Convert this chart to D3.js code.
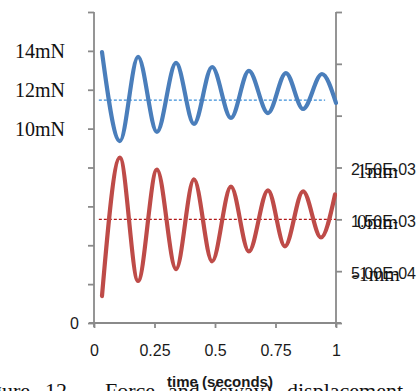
<!DOCTYPE html>
<html>
<head>
<meta charset="utf-8">
<script src="https://cdn.jsdelivr.net/npm/d3@7"></script>
<style>
    body { margin: 0; background: #fff; }
    svg { display: block; }
    .sans { font-family: "Liberation Sans", Arial, sans-serif; fill: #1a1a1a; }
    .serif { font-family: "Liberation Serif", "Times New Roman", serif; fill: #111; }
</style>
</head>
<body>
<svg id="chart" width="420" height="391"></svg>
<script>
// force (mN), read at peaks and troughs
var forceTime = [0.033, 0.107, 0.182, 0.260, 0.339, 0.413, 0.488, 0.566, 0.640, 0.719, 0.793, 0.864, 0.942, 1.0];
var forceValue = [13.94, 9.36, 13.69, 9.83, 13.38, 10.24, 13.17, 10.55, 12.97, 10.80, 12.86, 11.01, 12.81, 11.32];
var forceMean = 11.47;

// displacement (m), read at troughs and peaks
var dispTime = [0.033, 0.107, 0.182, 0.260, 0.339, 0.413, 0.488, 0.566, 0.640, 0.719, 0.789, 0.864, 0.938, 0.996];
var dispValue = [0.00002, 0.00269, 0.00031, 0.00246, 0.00054, 0.00227, 0.00069, 0.00213, 0.00088, 0.00206, 0.00098, 0.00204, 0.00115, 0.00198];
var dispMean = 0.0015;

// tick values
var xTicks = [0, 0.25, 0.5, 0.75, 1];
var leftTicks = [0, 2, 4, 6, 8, 10, 12, 14, 16];
var rightTicks = [-0.0005, 0.0005, 0.0015, 0.0025, 0.0035, 0.0045, 0.0055];
var rightLabelled = [0.0005, 0.0015, 0.0025];
var mnLabels = [{v: 14, t: "14mN"}, {v: 12, t: "12mN"}, {v: 10, t: "10mN"}];
var mmLabels = [{v: 0.0025, t: "1mm"}, {v: 0.0015, t: "0mm"}, {v: 0.0005, t: "-1mm"}];

var AXIS = "#8a8a8a";

window.onload = function()
{
    var svg = d3.select("#chart");

    // scales
    var x = d3.scaleLinear().domain([0, 1]).range([94, 336]),
        yL = d3.scaleLinear().domain([0, 16]).range([323, 12]),
        yR = d3.scaleLinear().domain([-0.0005, 0.0055]).range([323, 12]);

    // excel style exponent label
    var expFormat = function(d) {
        var s = d.toExponential(2).toUpperCase().split("E");
        var e = +s[1];
        return s[0] + "E" + (e < 0 ? "-" : "+") + d3.format("02d")(Math.abs(e));
    };

    // left axis
    var gl = svg.append("g")
        .attr("transform", "translate(" + x(0) + ",0)")
        .call(d3.axisLeft(yL).tickValues(leftTicks).tickSize(6).tickSizeOuter(0)
            .tickFormat(d => d === 0 ? "0" : ""));
    gl.select(".domain").remove();
    gl.append("line").attr("y1", yL(16)).attr("y2", yL(0) + 4);

    // right axis
    var gr = svg.append("g")
        .attr("transform", "translate(" + x(1) + ",0)")
        .call(d3.axisRight(yR).tickValues(rightTicks).tickSize(6).tickSizeOuter(0)
            .tickFormat(d => rightLabelled.some(v => Math.abs(v - d) < 1e-9) ? expFormat(d) : ""));
    gr.select(".domain").remove();
    gr.append("line").attr("y1", yR(0.0055)).attr("y2", yR(-0.0005) + 4);

    // bottom axis
    var gx = svg.append("g")
        .attr("transform", "translate(0," + yL(0) + ")")
        .call(d3.axisBottom(x).tickValues(xTicks).tickSize(5).tickSizeOuter(0)
            .tickFormat(d3.format("")));
    gx.select(".domain").remove();
    gx.append("line").attr("x1", x(0) - 5).attr("x2", x(1) + 5);

    // axis styling
    svg.selectAll(".tick line").attr("stroke", AXIS).attr("stroke-width", 1.5);
    svg.selectAll("g > line").attr("stroke", AXIS).attr("stroke-width", 1.8);
    svg.selectAll(".tick text")
        .attr("class", "sans")
        .style("font-size", "16px")
        .attr("fill", "#1a1a1a");
    gl.selectAll(".tick text").attr("x", -15);
    gr.selectAll(".tick text").attr("x", 15).attr("dy", "0.45em");
    gx.selectAll(".tick text").attr("y", 22);

    // mean dashed lines
    svg.append("line")
        .attr("x1", x(0.02)).attr("x2", x(0.955))
        .attr("y1", yL(forceMean)).attr("y2", yL(forceMean))
        .attr("stroke", "#3b8fd9").attr("stroke-width", 1.3)
        .attr("stroke-dasharray", "3,2");
    svg.append("line")
        .attr("x1", x(0.02)).attr("x2", x(1))
        .attr("y1", yR(dispMean)).attr("y2", yR(dispMean))
        .attr("stroke", "#b01818").attr("stroke-width", 1.3)
        .attr("stroke-dasharray", "3,2");

    // line generators
    var forceLine = d3.line()
        .x(d => x(d[0])).y(d => yL(d[1]))
        .curve(d3.curveMonotoneX);
    var dispLine = d3.line()
        .x(d => x(d[0])).y(d => yR(d[1]))
        .curve(d3.curveMonotoneX);

    svg.append("path")
        .attr("d", dispLine(d3.zip(dispTime, dispValue)))
        .attr("fill", "none").attr("stroke", "#be4b48")
        .attr("stroke-width", 4.2).attr("stroke-linecap", "round");
    svg.append("path")
        .attr("d", forceLine(d3.zip(forceTime, forceValue)))
        .attr("fill", "none").attr("stroke", "#4a7ebb")
        .attr("stroke-width", 4.2).attr("stroke-linecap", "round");

    // overlaid serif labels
    svg.selectAll(".mn")
        .data(mnLabels).enter()
        .append("text")
        .attr("class", "serif")
        .attr("x", 65).attr("y", d => yL(d.v))
        .attr("dy", "0.35em")
        .attr("text-anchor", "end")
        .style("font-size", "20px")
        .text(d => d.t);
    svg.selectAll(".mm")
        .data(mmLabels).enter()
        .append("text")
        .attr("class", "serif")
        .attr("x", d => d.t[0] === "-" ? 352 : 357).attr("y", d => yR(d.v))
        .attr("dy", "0.5em")
        .style("font-size", "20px")
        .text(d => d.t);

    // caption underneath, cut off by the frame
    var caption = [{x: 30, a: "end", t: "Figure"}, {x: 45, a: "start", t: "12"},
                   {x: 79, a: "start", t: "\u2014"}, {x: 105, a: "start", t: "Force"},
                   {x: 168, a: "start", t: "and"}, {x: 212, a: "start", t: "(sway)"},
                   {x: 287, a: "start", t: "displacement"}];
    svg.selectAll(".cap")
        .data(caption).enter()
        .append("text")
        .attr("class", "serif")
        .attr("x", d => d.x).attr("y", 398)
        .attr("text-anchor", d => d.a)
        .style("font-size", "22px")
        .text(d => d.t);

    // x axis title
    svg.append("text")
        .attr("class", "sans")
        .attr("x", 220).attr("y", 387)
        .attr("text-anchor", "middle")
        .style("font-size", "15px")
        .style("font-weight", "bold")
        .text("time (seconds)");
}
</script>
</body>
</html>
